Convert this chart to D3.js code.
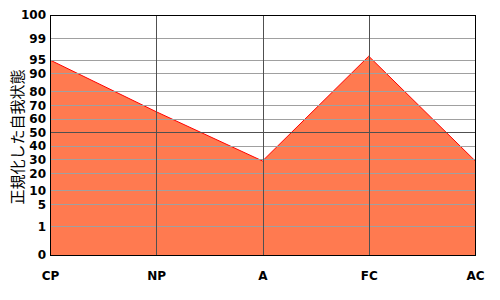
<!DOCTYPE html>
<html><head><meta charset="utf-8">
<script src="https://cdn.jsdelivr.net/npm/d3@7"></script>
<style>body{margin:0;background:#fff}</style>
</head><body>
<svg id="c" width="500" height="300"></svg>
<script>
const categories = ["CP", "NP", "A", "FC", "AC"];
const values = [95, 65.3, 28.8, 95.7, 29];
const yTicks = [0, 1, 5, 10, 20, 30, 40, 50, 60, 70, 80, 90, 95, 99, 100];
const yLabel = "正規化した自我状態";

const W = 500, H = 300;
const m = {left: 50, right: 25, top: 15, bottom: 45};
const iw = W - m.left - m.right, ih = H - m.top - m.bottom;
// nonlinear percentile axis: fraction of plot height (from bottom) for each tick
const tickFrac = [0, 28.7, 50.7, 64.7, 81.7, 95.7, 109, 122.7, 136, 149.7, 163.7, 181.7, 195, 216.7, 240].map(v => v / 240);

const svg = d3.select("#c");
const g = svg.append("g").attr("transform", `translate(${m.left},${m.top})`);
const x = d3.scalePoint().domain(categories).range([0, iw]);
const y = d3.scaleLinear().domain(yTicks).range(tickFrac.map(f => ih - f * ih));

// area
const area = d3.area().x((d, i) => x(categories[i])).y0(ih).y1(d => y(d));
g.append("path").datum(values).attr("d", area).attr("fill", "#FF7A50");
const line = d3.line().x((d, i) => x(categories[i])).y(d => y(d));
g.append("path").datum(values).attr("d", line).attr("fill", "none").attr("stroke", "#FF0000").attr("stroke-width", 1);

// horizontal grid
g.selectAll(".hg").data(yTicks.filter(t => t !== 0 && t !== 100)).join("line")
  .attr("x1", 0).attr("x2", iw)
  .attr("y1", d => Math.round(y(d)) + 0.5).attr("y2", d => Math.round(y(d)) + 0.5)
  .attr("stroke", d => d === 50 ? "#505050" : "#A0A0A0").attr("stroke-width", 1);
// vertical grid
g.selectAll(".vg").data(categories.slice(1, -1)).join("line")
  .attr("x1", d => Math.round(x(d)) + 0.5).attr("x2", d => Math.round(x(d)) + 0.5)
  .attr("y1", 0).attr("y2", ih)
  .attr("stroke", "#505050").attr("stroke-width", 1);
// frame
g.append("rect").attr("x", 0.5).attr("y", 0.5).attr("width", iw).attr("height", ih)
  .attr("fill", "none").attr("stroke", "#000").attr("stroke-width", 1);

// y tick labels
const yAxis = d3.axisLeft(y).tickValues(yTicks).tickSize(0).tickPadding(4);
const ya = g.append("g").call(yAxis);
ya.select(".domain").remove();
ya.selectAll("text").attr("font-family", "DejaVu Sans").attr("font-weight", "bold")
  .attr("font-size", 12).attr("fill", "#000");

// x labels
const xAxis = d3.axisBottom(x).tickSize(0).tickPadding(16);
const xa = g.append("g").attr("transform", `translate(0,${ih})`).call(xAxis);
xa.select(".domain").remove();
xa.selectAll("text").attr("font-family", "DejaVu Sans").attr("font-weight", "bold")
  .attr("font-size", 12).attr("fill", "#000");

// y label
svg.append("text").attr("transform", `translate(23,${m.top + ih / 2 + 2}) rotate(-90)`)
  .attr("text-anchor", "middle").attr("font-family", "Noto Sans CJK JP")
  .attr("font-size", 15).attr("fill", "#000").text(yLabel);
</script>
</body></html>
